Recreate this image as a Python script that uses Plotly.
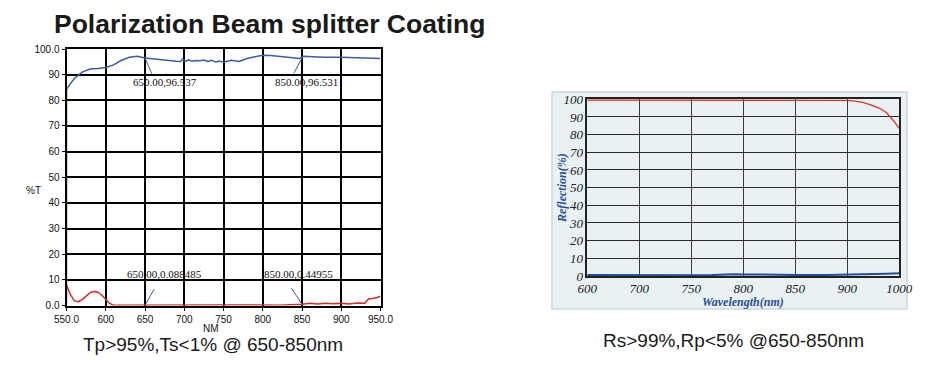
import numpy as np
import plotly.graph_objects as go

# ---------------- Data: left chart (transmission) ----------------
tp_wl = [550, 550, 555, 560, 570, 580, 590, 600, 610, 620, 630, 640, 650, 660, 670, 680, 690,
         695, 698, 702, 706, 710, 715, 720, 725, 730, 735, 740, 745, 750, 760, 770, 780, 790,
         800, 810, 820, 830, 840, 847, 852, 860, 870, 880, 890, 900, 910, 920, 930, 940, 950]
tp_val = [0.0, 84.3, 86.5, 88.5, 91.0, 92.2, 92.4, 92.8, 93.8, 95.6, 96.8, 97.2, 96.5, 96.1,
          95.9, 95.6, 95.2, 95.1, 96.0, 95.3, 95.8, 95.2, 95.5, 95.4, 95.7, 95.1, 95.6, 94.9,
          95.3, 94.8, 95.6, 95.1, 96.3, 97.0, 97.6, 97.5, 97.2, 96.9, 96.5, 96.3, 97.2, 97.0,
          96.9, 96.8, 96.9, 96.8, 96.7, 96.6, 96.5, 96.4, 96.3]

ts_wl = [550, 555, 560, 565, 570, 575, 580, 585, 590, 595, 600, 605, 610, 650, 700, 750, 800,
         820, 850, 860, 870, 880, 890, 900, 910, 920, 930, 935, 940, 945, 950]
ts_val = [8.0, 4.2, 1.8, 1.5, 2.3, 3.8, 5.0, 5.5, 5.2, 4.0, 2.3, 0.8, 0.1, 0.2, 0.2, 0.2, 0.2,
          0.1, 0.45, 0.9, 0.6, 0.9, 0.7, 0.9, 0.6, 1.0, 0.9, 2.6, 2.7, 3.0, 3.6]

left_xticks = [550, 600, 650, 700, 750, 800, 850, 900, 950]
left_xtext = ["550.0", "600", "650", "700", "750", "800", "850", "900", "950.0"]
left_yticks = [0, 10, 20, 30, 40, 50, 60, 70, 80, 90, 100]
left_ytext = ["0.0", "10", "20", "30", "40", "50", "60", "70", "80", "90", "100.0"]

markers = [(650, 96.537, "650.00,96.537"), (850, 96.531, "850.00,96.531"),
           (650, 0.088485, "650.00,0.088485"), (850, 0.44955, "850.00,0.44955")]

# ---------------- Data: right chart (reflection) ----------------
right_xticks = [600, 700, 750, 800, 850, 900, 1000]   # equally spaced on the chart
rs_wl = [600, 650, 700, 750, 800, 850, 880, 900, 915, 930, 945, 962, 975, 982, 990, 1000]
rs_val = [99.6, 99.6, 99.5, 99.5, 99.5, 99.5, 99.5, 99.4, 99.0, 98.2, 96.8, 94.9, 92.5, 90.3, 87.5, 83.6]
rp_wl = [600, 650, 700, 750, 770, 780, 790, 800, 820, 850, 880, 900, 925, 950, 975, 1000]
rp_val = [0.5, 0.4, 0.4, 0.4, 0.5, 0.9, 1.0, 0.9, 0.7, 0.6, 0.6, 0.7, 0.9, 1.1, 1.3, 1.6]
right_yticks = [0, 10, 20, 30, 40, 50, 60, 70, 80, 90, 100]

W, H = 929, 370


def to_pos(wl):
    return np.interp(wl, right_xticks, np.arange(len(right_xticks)))


fig = go.Figure()

fig.add_trace(go.Scatter(x=tp_wl, y=tp_val, mode="lines", line=dict(color="#3b5da3", width=1.5),
                         xaxis="x", yaxis="y", showlegend=False, hoverinfo="skip"))
fig.add_trace(go.Scatter(x=ts_wl, y=ts_val, mode="lines", line=dict(color="#d42a2a", width=1.5),
                         xaxis="x", yaxis="y", showlegend=False, hoverinfo="skip"))

fig.add_trace(go.Scatter(x=to_pos(rs_wl), y=rs_val, mode="lines", line=dict(color="#e0302a", width=1.3),
                         xaxis="x2", yaxis="y2", showlegend=False, hoverinfo="skip"))
fig.add_trace(go.Scatter(x=to_pos(rp_wl), y=rp_val, mode="lines", line=dict(color="#1f4f9a", width=2),
                         xaxis="x2", yaxis="y2", showlegend=False, hoverinfo="skip"))

annotations = []
arrow_off = [(7.5, 17.4), (-9, 17), (10, -17.6), (-11.5, -17.7)]
text_pos = [(675.5, 87.1), (855.7, 87.1), (674.8, 12.3), (845.0, 12.3)]
for (mx, my, txt), (ax, ay), (tx, ty) in zip(markers, arrow_off, text_pos):
    annotations.append(dict(x=mx, y=my, xref="x", yref="y", ax=ax, ay=ay, axref="pixel", ayref="pixel",
                            text="", showarrow=True, arrowhead=0, arrowwidth=1, arrowcolor="#3b5da3",
                            standoff=0, startstandoff=0))
    annotations.append(dict(x=tx, y=ty, xref="x", yref="y", text=txt, showarrow=False,
                            xanchor="center", yanchor="middle",
                            font=dict(family="Liberation Serif", size=11, color="#111")))


def paper_text(px, py, txt, size, family="Liberation Sans", color="#1a1a1a", angle=0):
    return dict(x=px / W, y=1 - py / H, xref="paper", yref="paper", text=txt, showarrow=False,
                xanchor="center", yanchor="middle", textangle=angle,
                font=dict(family=family, size=size, color=color))


annotations += [
    paper_text(269, 24, "<b>Polarization Beam splitter Coating</b>", 26.5),
    paper_text(33, 190, "%T", 10, color="#111"),
    paper_text(211, 328, "NM", 10, color="#111"),
    paper_text(213, 344, "Tp>95%,Ts<1% @ 650-850nm", 19),
    paper_text(733, 340, "Rs>99%,Rp<5% @650-850nm", 19),
    paper_text(562, 188, "<b><i>Reflection(%)</i></b>", 12, family="Liberation Serif", color="#2a4d9c", angle=-90),
    paper_text(743, 302, "<b><i>Wavelength(nm)</i></b>", 12, family="Liberation Serif", color="#2a4d9c"),
]

shapes = [
    dict(type="rect", xref="paper", yref="paper", x0=552 / W, x1=907 / W, y0=1 - 309 / H, y1=1 - 92 / H,
         fillcolor="#e9f1f3", line=dict(color="#c9d9e1", width=1.5), layer="below"),
]

fig.update_layout(
    template="none",
    width=W, height=H, margin=dict(l=0, r=0, t=0, b=0, pad=0, autoexpand=False),
    paper_bgcolor="white", plot_bgcolor="rgba(0,0,0,0)",
    annotations=annotations, shapes=shapes,
    xaxis=dict(domain=[66.5 / W, 380.5 / W], range=[550, 950], tickmode="array", tickvals=left_xticks,
               ticktext=left_xtext, automargin=False,
               showgrid=True, gridcolor="black", gridwidth=2, showline=True, linecolor="black", linewidth=2,
               mirror=True, ticks="outside", ticklen=3, tickcolor="black", zeroline=False,
               tickfont=dict(family="Liberation Sans", size=10, color="#111"), anchor="y"),
    yaxis=dict(domain=[1 - 305.5 / H, 1 - 49 / H], range=[0, 100], tickmode="array", tickvals=left_yticks,
               ticktext=left_ytext, automargin=False,
               showgrid=True, gridcolor="black", gridwidth=2, showline=True, linecolor="black", linewidth=2,
               mirror=True, ticks="outside", ticklen=3, tickcolor="black", zeroline=False,
               tickfont=dict(family="Liberation Sans", size=10, color="#111"), anchor="x"),
    xaxis2=dict(domain=[587.3 / W, 899.3 / W], range=[0, 6], tickmode="array",
                tickvals=list(range(len(right_xticks))),
                ticktext=[f"<i>{v}</i>" for v in right_xticks], automargin=False,
                showgrid=True, gridcolor="#3a3a3a", gridwidth=1.3, showline=True, linecolor="#222", linewidth=1.5,
                mirror=True, ticks="", zeroline=False,
                tickfont=dict(family="Liberation Serif", size=13, color="#222"), anchor="y2"),
    yaxis2=dict(domain=[1 - 276 / H, 1 - 99.3 / H], range=[0, 100], tickmode="array", tickvals=right_yticks,
                ticktext=[f"<i>{v}</i>" for v in right_yticks], automargin=False,
                showgrid=True, gridcolor="#2a2a2a", gridwidth=1.3, showline=True, linecolor="#222", linewidth=1.5,
                mirror=True, ticks="", zeroline=False,
                tickfont=dict(family="Liberation Serif", size=13, color="#222"), anchor="x2"),
)

fig.write_html("out.html")
